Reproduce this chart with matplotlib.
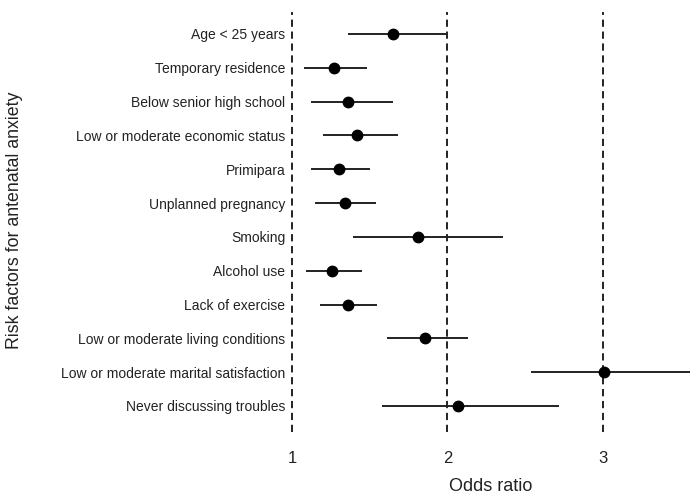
import matplotlib
matplotlib.use("Agg")
import matplotlib.pyplot as plt

factors = [
    "Age < 25 years",
    "Temporary residence",
    "Below senior high school",
    "Low or moderate economic status",
    "Primipara",
    "Unplanned pregnancy",
    "Smoking",
    "Alcohol use",
    "Lack of exercise",
    "Low or moderate living conditions",
    "Low or moderate marital satisfaction",
    "Never discussing troubles",
]
odds = [1.65, 1.27, 1.36, 1.42, 1.30, 1.34, 1.81, 1.26, 1.36, 1.855, 3.01, 2.07]
lower = [1.36, 1.08, 1.12, 1.20, 1.12, 1.15, 1.39, 1.09, 1.18, 1.61, 2.54, 1.58]
upper = [1.99, 1.48, 1.65, 1.68, 1.50, 1.54, 2.36, 1.45, 1.55, 2.13, 3.56, 2.72]
ref_lines = [1, 2, 3]
xticks = [1, 2, 3]

plt.rcParams['font.family'] = ['Liberation Sans', 'DejaVu Sans']

W, H = 700, 498
fig = plt.figure(figsize=(W / 100, H / 100), dpi=100)
left, right, top, bottom = 289, 693, 12, 432
ax = fig.add_axes([left / W, 1 - bottom / H, (right - left) / W, (bottom - top) / H])

ypos = list(range(1, len(factors) + 1))
for r in ref_lines:
    ax.axvline(r, color='#111111', linewidth=1.3, linestyle=(0, (4, 2.6)), zorder=1)
ax.hlines(ypos, lower, upper, color='#222222', linewidth=1.4, zorder=2)
ax.plot(odds, ypos, 'o', color='black', markersize=7.5, zorder=3)

ax.set_xlim(0.981, 3.58)
ax.set_ylim(len(factors) + 0.77, 1 - 0.65)
ax.set_yticks(ypos)
ax.set_yticklabels(factors, fontsize=10, color='#222222')
ax.set_xticks(xticks)
ax.set_xticklabels([str(t) for t in xticks], fontsize=12, color='#222222')
ax.tick_params(axis='both', length=0)
ax.tick_params(axis='y', pad=2.7)
ax.tick_params(axis='x', pad=14)
for s in ax.spines.values():
    s.set_visible(False)
ax.set_xlabel("Odds ratio", fontsize=13, color='#222222', labelpad=8)
fig.text(15 / W, 1 - 220 / H, "Risk factors for antenatal anxiety", rotation=90,
         fontsize=12.8, color='#222222', ha='center', va='center')

fig.savefig("out.png", dpi=100)
